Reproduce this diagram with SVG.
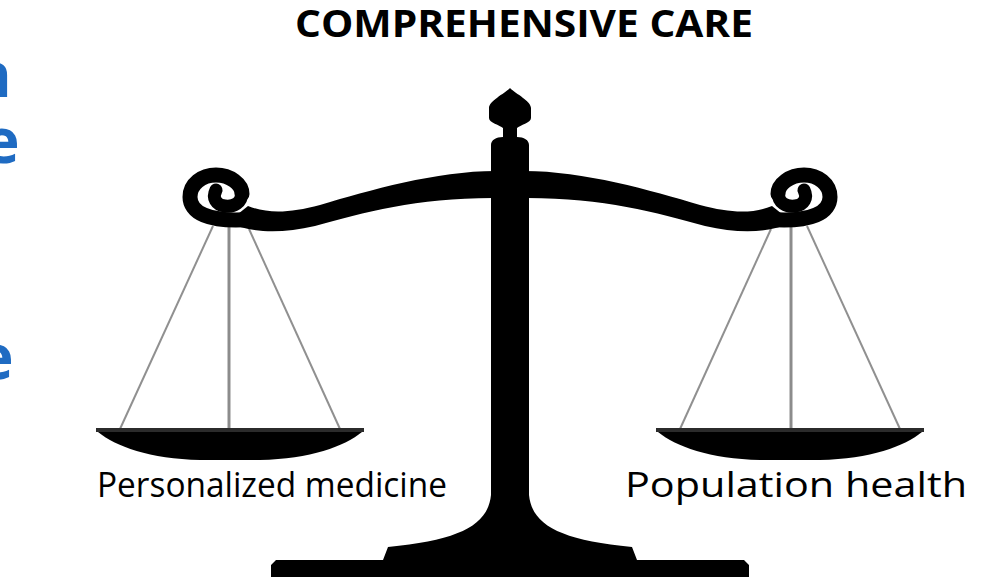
<svg xmlns="http://www.w3.org/2000/svg" xmlns:xlink="http://www.w3.org/1999/xlink" width="984" height="577" viewBox="0 0 984 577">
  <style>
    .title { font-family: "Open Sans", "Liberation Sans", sans-serif; font-weight: 700; font-size: 37px; fill: #000; }
    .label { font-family: "Open Sans", "Liberation Sans", sans-serif; font-size: 34px; fill: #000; }
    .side { font-family: "Open Sans", "Liberation Sans", sans-serif; font-weight: 700; font-size: 62px; fill: #1f6bc2; }
    .ink { fill: #000; }
    .curl { fill: none; stroke: #000; stroke-linecap: round; }
    .cord { stroke: #909090; stroke-width: 2; fill: none; }
    .rod { stroke: #8c8c8c; stroke-width: 3; fill: none; }
    .rim { fill: #2b2b2b; }
  </style>
  <defs>
    <!-- right half of the beam ending in a scroll; mirrored for the left half -->
    <g id="arm">
      <path class="ink" d="M 520 171 C 580 170, 650 190, 700 205 C 730 213, 752 214, 772 206 L 792 222 C 770 233, 740 234, 705 226 C 655 212, 600 197, 520 198 Z"/>
      <path class="curl" stroke-width="15" d="M 765 219 C 785 221, 804 220, 816 215 C 826 211, 830 204, 830 197 C 830 184, 818 175, 804 175 C 790 175, 778 184, 778 194"/>
      <path class="curl" stroke-width="13" d="M 778 192 C 778 203, 786 207, 795 206 C 804 205, 808 198, 804 190"/>
    </g>
    <!-- one hanging pan with its three cords -->
    <g id="pan">
      <line class="rod" x1="791" y1="222" x2="791" y2="430"/>
      <line class="cord" x1="771" y1="229" x2="680" y2="429"/>
      <line class="cord" x1="807" y1="226" x2="900" y2="429"/>
      <rect class="rim" x="656" y="428" width="268" height="4"/>
      <path class="ink" d="M 658 432 L 922 432 C 905 446, 870 459, 820 460 L 760 460 C 710 459, 675 446, 658 432 Z"/>
    </g>
  </defs>

  <!-- large blue heading text running off the left edge -->
  <g id="side-text">
    <text class="side" x="-29" y="97">n</text>
    <text class="side" x="-17" y="163">e</text>
    <text class="side" x="-23" y="379">e</text>
  </g>

  <g id="title">
    <text class="title" x="295" y="37" textLength="458" lengthAdjust="spacingAndGlyphs">COMPREHENSIVE CARE</text>
  </g>

  <g id="connectors">
    <use xlink:href="#pan"/>
    <use xlink:href="#pan" transform="matrix(-1 0 0 1 1020 0)"/>
  </g>

  <g id="scale">
    <use xlink:href="#arm"/>
    <use xlink:href="#arm" transform="matrix(-1 0 0 1 1020 0)"/>
    <!-- finial, column and stepped base -->
    <path class="ink" d="M 510 88 C 516 94, 531 101, 531 108 L 531 118 C 531 123, 520 125, 517 128 L 517 137 C 524 137, 529 140, 529 145 L 529 495 C 532 525, 560 540, 632 547 L 637 560 L 744 560 L 749 565 L 749 577 L 271 577 L 271 565 L 276 560 L 383 560 L 388 547 C 460 540, 488 525, 491 495 L 491 145 C 491 140, 496 137, 503 137 L 503 128 C 500 125, 489 123, 489 118 L 489 108 C 489 101, 504 94, 510 88 Z"/>
  </g>

  <g id="personalized-medicine">
    <text class="label" x="97" y="497" textLength="350" lengthAdjust="spacingAndGlyphs">Personalized medicine</text>
  </g>
  <g id="population-health">
    <text class="label" x="625" y="497" textLength="342" lengthAdjust="spacingAndGlyphs">Population health</text>
  </g>
</svg>
